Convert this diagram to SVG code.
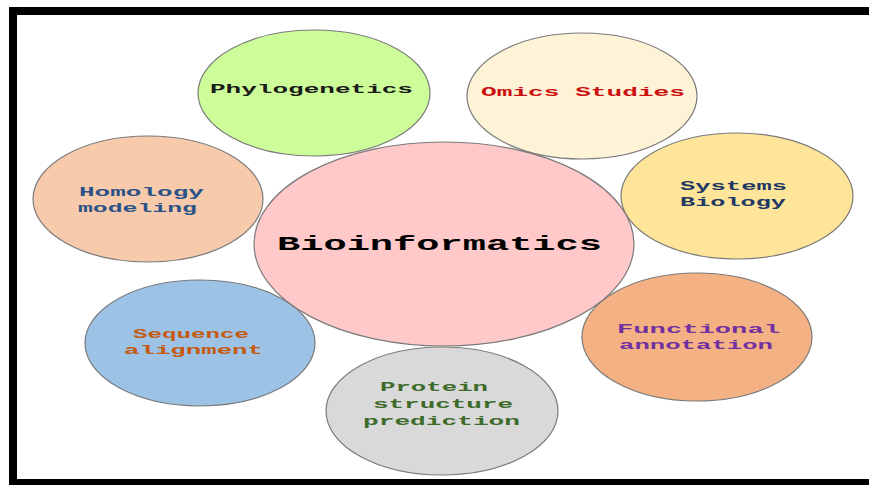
<svg xmlns="http://www.w3.org/2000/svg" width="869" height="485" viewBox="0 0 869 485">
  <style>
    .bubble { stroke: #7a7a7a; stroke-width: 1.2; }
    .lbl { font-family: "Liberation Mono", "Courier New", "DejaVu Sans Mono", monospace; font-weight: bold; font-size: 13px; }
    .main { font-family: "Liberation Mono", "Courier New", "DejaVu Sans Mono", monospace; font-weight: bold; font-size: 21px; fill: #000000; }
  </style>
  <rect x="0" y="0" width="869" height="485" fill="#ffffff"/>
  <!-- frame: top, left and bottom bars -->
  <rect x="9" y="7" width="860" height="8" fill="#000000"/>
  <rect x="9" y="7" width="8" height="478" fill="#000000"/>
  <rect x="9" y="479" width="860" height="6" fill="#000000"/>

  <g id="connectors"></g>

  <g id="phylogenetics">
    <ellipse class="bubble" cx="314" cy="93" rx="116" ry="63" fill="#ccfd99"/>
    <text class="lbl" x="210" y="93" textLength="203" lengthAdjust="spacingAndGlyphs" fill="#1a1a1a">Phylogenetics</text>
  </g>
  <g id="omics">
    <ellipse class="bubble" cx="582" cy="96" rx="115" ry="63" fill="#fff3d7"/>
    <text class="lbl" x="481" y="96" textLength="204" lengthAdjust="spacingAndGlyphs" fill="#cc1010">Omics Studies</text>
  </g>
  <g id="systems">
    <ellipse class="bubble" cx="737" cy="196" rx="116" ry="63" fill="#fee599"/>
    <text class="lbl" x="680" y="190" textLength="107" lengthAdjust="spacingAndGlyphs" fill="#1f3864">Systems</text>
    <text class="lbl" x="680" y="206" textLength="106" lengthAdjust="spacingAndGlyphs" fill="#1f3864">Biology</text>
  </g>
  <g id="homology">
    <ellipse class="bubble" cx="148" cy="199" rx="115" ry="63" fill="#f7caab"/>
    <text class="lbl" x="79" y="196" textLength="125" lengthAdjust="spacingAndGlyphs" fill="#2a5286">Homology</text>
    <text class="lbl" x="78" y="212" textLength="119" lengthAdjust="spacingAndGlyphs" fill="#2a5286">modeling</text>
  </g>
  <g id="sequence">
    <ellipse class="bubble" cx="200" cy="343" rx="115" ry="63" fill="#9cc3e6"/>
    <text class="lbl" x="133" y="338" textLength="116" lengthAdjust="spacingAndGlyphs" fill="#c55a11">Sequence</text>
    <text class="lbl" x="124" y="354" textLength="139" lengthAdjust="spacingAndGlyphs" fill="#c55a11">alignment</text>
  </g>
  <g id="functional">
    <ellipse class="bubble" cx="697" cy="337" rx="115" ry="64" fill="#f4b183"/>
    <text class="lbl" x="617" y="333" textLength="163" lengthAdjust="spacingAndGlyphs" fill="#7030a0">Functional</text>
    <text class="lbl" x="619" y="349" textLength="154" lengthAdjust="spacingAndGlyphs" fill="#7030a0">annotation</text>
  </g>
  <g id="protein">
    <ellipse class="bubble" cx="442" cy="411" rx="116" ry="64" fill="#d9d9d9"/>
    <text class="lbl" x="380" y="391" textLength="108" lengthAdjust="spacingAndGlyphs" fill="#3d6b2a">Protein</text>
    <text class="lbl" x="373" y="408" textLength="140" lengthAdjust="spacingAndGlyphs" fill="#3d6b2a">structure</text>
    <text class="lbl" x="363" y="425" textLength="157" lengthAdjust="spacingAndGlyphs" fill="#3d6b2a">prediction</text>
  </g>
  <g id="bioinformatics">
    <ellipse class="bubble" cx="444" cy="244" rx="190" ry="102" fill="#ffc9c9"/>
    <text class="main" x="277" y="250" textLength="325" lengthAdjust="spacingAndGlyphs">Bioinformatics</text>
  </g>
</svg>
